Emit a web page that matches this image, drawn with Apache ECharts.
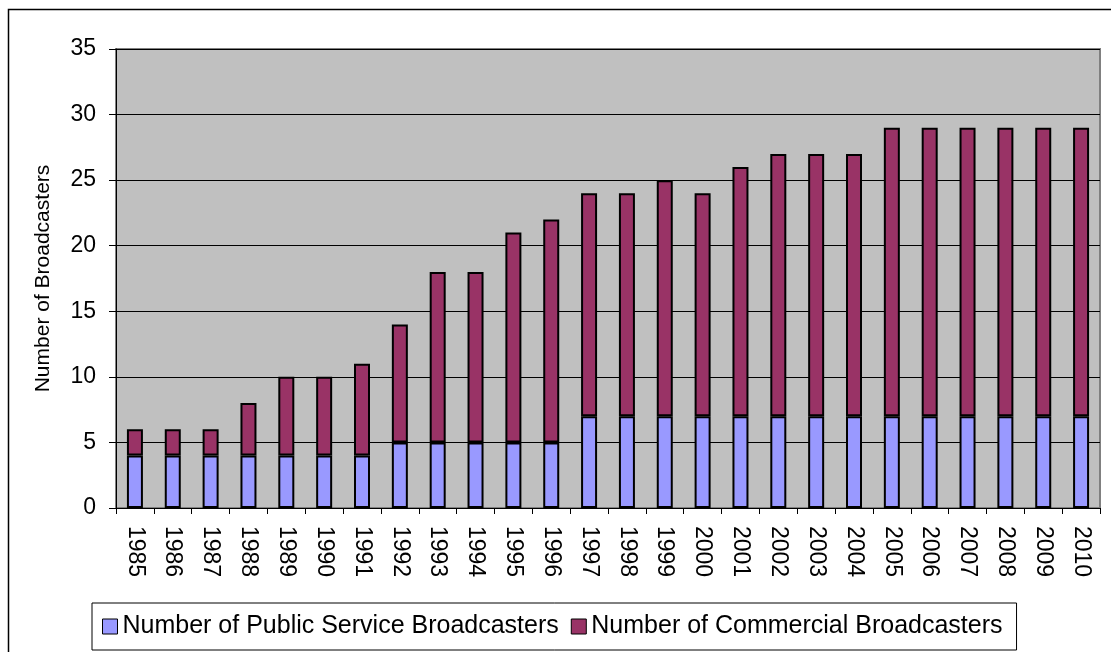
<!DOCTYPE html>
<html>
<head>
<meta charset="utf-8">
<script src="https://cdn.jsdelivr.net/npm/echarts@6/dist/echarts.min.js"></script>
<style>
html,body{margin:0;padding:0;background:#fff;}
#c{width:1111px;height:652px;}
</style>
</head>
<body>
<div id="c"></div>
<script>
const years = ['1985','1986','1987','1988','1989','1990','1991','1992','1993','1994','1995','1996','1997','1998','1999','2000','2001','2002','2003','2004','2005','2006','2007','2008','2009','2010'];
const publicService = [4,4,4,4,4,4,4,5,5,5,5,5,7,7,7,7,7,7,7,7,7,7,7,7,7,7];
const commercial = [2,2,2,4,6,6,7,9,13,13,16,17,17,17,18,17,19,20,20,20,22,22,22,22,22,22];
const yTicks = [0,5,10,15,20,25,30,35];
const seriesNames = ['Number of Public Service Broadcasters','Number of Commercial Broadcasters'];
const yAxisTitle = 'Number of Broadcasters';

const FONT = '"Liberation Sans", Arial, sans-serif';
const chart = echarts.init(document.getElementById('c'), null, {renderer:'canvas'});
chart.setOption({
  animation:false,
  backgroundColor:'#fff',
  graphic:[{type:'rect', shape:{x:8.5,y:9.5,width:1130,height:700}, style:{fill:'none',stroke:'#000',lineWidth:1.5}, z:-1}],
  grid:{left:116, right:11, top:49, bottom:144, show:true, backgroundColor:'#C0C0C0', borderColor:'#808080', borderWidth:2},
  legend:{
    left:92, top:603, orient:'horizontal',
    padding:[11,14,11,10],
    borderColor:'#000', borderWidth:1, backgroundColor:'#fff',
    itemWidth:15, itemHeight:15, itemGap:12,
    icon:'rect',
    itemStyle:{borderColor:'#000', borderWidth:1},
    textStyle:{fontFamily:FONT, fontSize:25, color:'#000', lineHeight:25},
    data:seriesNames
  },
  xAxis:{
    type:'category', data:years, boundaryGap:true,
    axisLine:{lineStyle:{color:'#000', width:1}},
    axisTick:{show:true, alignWithLabel:false, length:6, lineStyle:{color:'#000'}},
    axisLabel:{rotate:-90, interval:0, margin:18, fontFamily:FONT, fontSize:23, color:'#000'},
    splitLine:{show:false}
  },
  yAxis:{
    type:'value', min:0, max:35, interval:5,
    name:yAxisTitle, nameLocation:'middle', nameRotate:90, nameGap:62,
    nameTextStyle:{fontFamily:FONT, fontSize:21, color:'#000'},
    axisLine:{show:true, lineStyle:{color:'#000', width:1}},
    axisTick:{show:true, length:7, lineStyle:{color:'#000'}},
    axisLabel:{margin:20, fontFamily:FONT, fontSize:23, color:'#000', formatter:v=>yTicks.includes(v)?String(v):''},
    splitLine:{show:true, lineStyle:{color:'#000', width:1}}
  },
  series:[
    {name:seriesNames[0], type:'bar', stack:'total', data:publicService, barWidth:16,
     itemStyle:{color:'#9999FF', borderColor:'#000', borderWidth:2}},
    {name:seriesNames[1], type:'bar', stack:'total', data:commercial, barWidth:16,
     itemStyle:{color:'#993366', borderColor:'#000', borderWidth:2}}
  ]
});
</script>
</body>
</html>
